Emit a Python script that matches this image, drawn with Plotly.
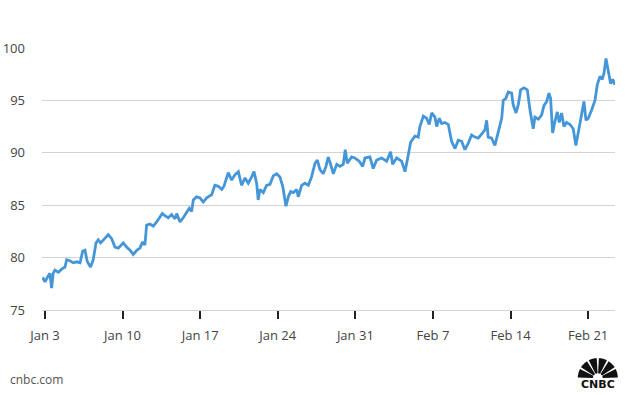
import math
import plotly.graph_objects as go

# Trading-day position (0 = Jan 3 open, 5 trading days per week) and price
days = [-0.15, 0, 0.19, 0.32, 0.43, 0.53, 0.64, 0.86, 1.08, 1.29, 1.40, 1.61, 1.82, 2.04, 2.26,
        2.43, 2.58, 2.73, 2.94, 3.11, 3.29, 3.43, 3.59, 3.76, 3.93, 4.08, 4.30, 4.51, 4.72,
        5.05, 5.26, 5.48, 5.69, 5.91, 6.12, 6.30, 6.44, 6.55, 6.77, 6.98, 7.20, 7.41, 7.56,
        7.73, 7.94, 8.16, 8.38, 8.49, 8.70, 8.91, 9.13, 9.30, 9.45, 9.56, 9.77, 9.99,
        10.20, 10.42, 10.74, 10.95, 11.17, 11.39, 11.53, 11.81, 12.03, 12.24, 12.46, 12.67,
        12.89, 13.10, 13.32, 13.47, 13.64, 13.74, 13.85, 14.07, 14.28, 14.50, 14.71, 14.93,
        15.14, 15.32, 15.53, 15.68, 15.83, 16.00, 16.22, 16.32, 16.54, 16.75, 16.97, 17.18,
        17.40, 17.55, 17.72, 17.93, 18.11, 18.25, 18.41, 18.58, 18.80, 19.01, 19.22, 19.35,
        19.48, 19.76, 19.97, 20.25, 20.47, 20.62, 20.94, 21.15, 21.37, 21.69, 22.02, 22.27,
        22.40, 22.66, 22.98, 23.20, 23.41, 23.56, 23.84, 24.05, 24.16, 24.38, 24.59, 24.76,
        24.92, 25.13, 25.24, 25.41, 25.56, 25.77, 25.99, 26.20, 26.42, 26.63, 26.85, 27.06,
        27.27, 27.49, 27.71, 27.92, 28.20, 28.35, 28.46, 28.56, 28.78, 28.99, 29.21, 29.43,
        29.53, 29.70, 29.85, 30.07, 30.17, 30.35, 30.50, 30.65, 30.86, 31.08, 31.25, 31.46,
        31.57, 31.79, 32.00, 32.15, 32.33, 32.47, 32.58, 32.71, 32.86, 33.01, 33.14, 33.29,
        33.44, 33.61, 33.83, 34.04, 34.21, 34.36, 34.58, 34.73, 34.86, 35.01, 35.23, 35.44,
        35.59, 35.76, 35.91, 36.02, 36.15, 36.30, 36.45, 36.58, 36.73]

price = [78.1, 77.7, 78.2, 78.5, 77.1, 78.5, 78.8, 78.6, 78.9, 79.1, 79.8, 79.7, 79.5, 79.6, 79.5,
         80.6, 80.7, 79.6, 79.1, 79.8, 81.4, 81.7, 81.4, 81.7, 81.9, 82.2, 81.8, 81.0, 80.9,
         81.4, 81.0, 80.7, 80.3, 80.7, 80.9, 81.5, 81.2, 83.1, 83.2, 83.0, 83.4, 83.9, 84.2,
         84.0, 83.8, 84.1, 83.7, 84.2, 83.4, 83.8, 84.3, 84.7, 84.4, 85.5, 85.8, 85.7,
         85.3, 85.7, 86.0, 86.9, 86.8, 86.5, 86.8, 88.1, 87.4, 87.9, 88.2, 86.9,
         87.6, 87.1, 87.7, 88.2, 87.1, 85.5, 86.5, 86.2, 86.9, 87.0, 87.8, 88.0,
         87.7, 86.8, 84.9, 85.8, 86.3, 86.2, 86.5, 85.8, 86.9, 87.1, 86.9, 87.7,
         89.0, 89.3, 88.4, 88.0, 88.7, 89.6, 88.9, 88.0, 88.9, 88.7, 88.9, 90.3,
         89.0, 89.6, 89.5, 89.2, 88.7, 89.5, 89.6, 88.5, 89.3, 89.5, 89.2, 90.1,
         88.9, 89.5, 89.2, 88.2, 89.8, 91.0, 91.6, 91.5, 92.5, 93.5, 93.3, 92.7,
         93.8, 93.4, 92.5, 93.3, 92.8, 92.9, 92.7, 91.1, 90.4, 91.2, 91.1, 90.3,
         90.9, 91.7, 91.5, 91.4, 91.9, 92.2, 93.1, 91.5, 91.4, 90.7, 92.0, 93.3,
         95.0, 95.2, 95.8, 95.7, 94.6, 93.8, 94.6, 96.0, 96.2, 96.0, 94.1, 92.3,
         93.4, 93.2, 93.6, 94.5, 94.9, 95.7, 95.2, 91.9, 93.0, 93.9, 92.9, 93.8,
         92.5, 92.9, 92.7, 92.3, 90.7, 92.0, 93.6, 94.9, 93.1, 93.3, 94.1, 95.0,
         96.5, 97.3, 97.0, 97.6, 99.0, 97.7, 96.6, 97.0, 96.5]

tick_pos = [0, 5, 10, 15, 20, 25, 30, 35]
tick_labels = ["Jan 3", "Jan 10", "Jan 17", "Jan 24", "Jan 31", "Feb 7", "Feb 14", "Feb 21"]
y_ticks = [75, 80, 85, 90, 95, 100]

FONT = "Open Sans"
fig = go.Figure()
fig.add_trace(go.Scatter(x=days, y=price, mode="lines",
                         line=dict(color="#4496d8", width=2.8), hoverinfo="skip"))

# CNBC peacock (approximate) built from feather wedges, in pixel units
shapes = []
n = 6
gap = 6
for i in range(n):
    a1 = 180 - i * 180 / n - gap / 2
    a2 = 180 - (i + 1) * 180 / n + gap / 2
    if i == 0:
        a1 = 178
    if i == n - 1:
        a2 = 2
    r0, R = 5, 20
    pts = []
    steps = 8
    for k in range(steps + 1):
        a = math.radians(a1 + (a2 - a1) * k / steps)
        pts.append((R * math.cos(a), R * math.sin(a)))
    inner = [(r0 * math.cos(math.radians(a2)), r0 * math.sin(math.radians(a2))),
             (r0 * math.cos(math.radians(a1)), r0 * math.sin(math.radians(a1)))]
    path = "M %.2f,%.2f " % inner[1] + " ".join("L %.2f,%.2f" % p for p in pts) + \
           " L %.2f,%.2f Z" % inner[0]
    shapes.append(dict(type="path", xref="paper", yref="paper", xsizemode="pixel",
                       ysizemode="pixel", xanchor=0.970, yanchor=-0.26, path=path,
                       fillcolor="#111", line=dict(width=0)))

fig.update_layout(
    width=627, height=395,
    margin=dict(l=42, r=12, t=48, b=85, autoexpand=False),
    paper_bgcolor="white", plot_bgcolor="white",
    showlegend=False,
    font=dict(family=FONT, size=13, color="#444"),
    xaxis=dict(range=[-0.19, 36.73], tickvals=tick_pos, ticktext=tick_labels,
               ticks="outside", ticklen=8, tickwidth=1.5, tickcolor="#222",
               showgrid=False, zeroline=False, showline=True, linecolor="#d3d3d3",
               linewidth=1, ticklabelstandoff=5, automargin=False,
               tickfont=dict(size=13, color="#444")),
    yaxis=dict(range=[75, 100], tickvals=y_ticks, showgrid=True, gridcolor="#d3d3d3",
               gridwidth=1, zeroline=False, ticks="", ticklabelstandoff=16,
               automargin=False, tickfont=dict(size=13, color="#444")),
    shapes=shapes,
    annotations=[
        dict(text="cnbc.com", xref="paper", yref="paper", x=-0.0593, y=-0.267,
             xanchor="left", yanchor="middle", showarrow=False,
             font=dict(family=FONT, size=12, color="#555")),
        dict(text="<b>CNBC</b>", xref="paper", yref="paper", x=0.970, y=-0.285,
             xanchor="center", yanchor="middle", showarrow=False,
             font=dict(family="DejaVu Sans", size=11, color="#111")),
    ],
)

fig.write_html("out.html", config={"displayModeBar": False},
               post_script="document.body.style.margin='0';")
